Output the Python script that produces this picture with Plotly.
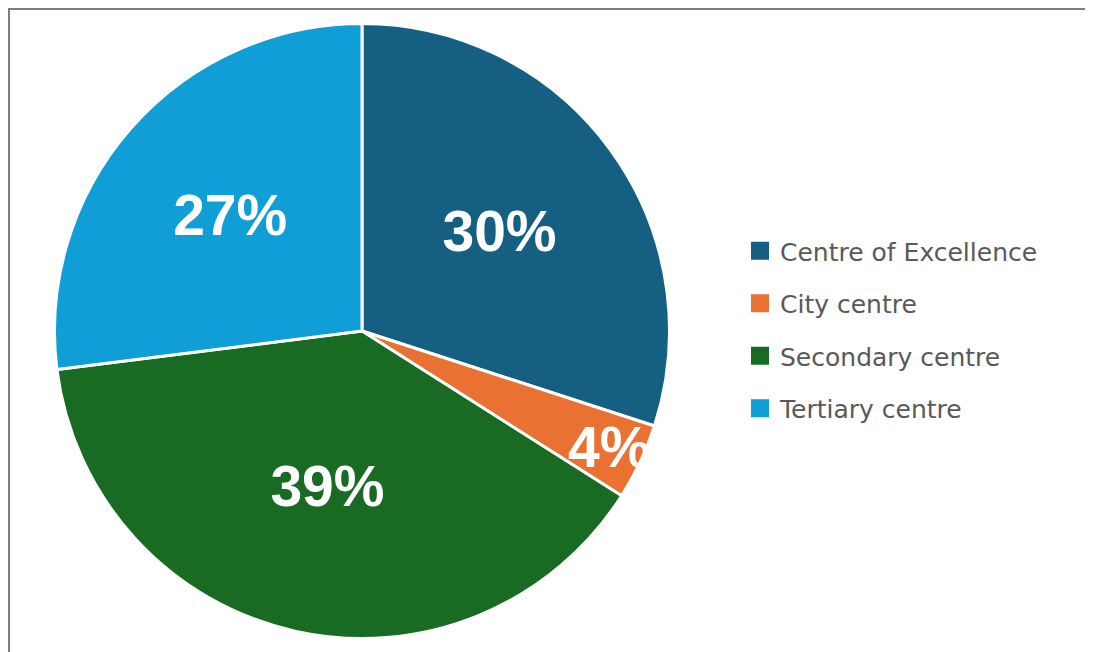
import plotly.graph_objects as go

categories = ["Centre of Excellence", "City centre", "Secondary centre", "Tertiary centre"]
values = [30, 4, 39, 27]
colors = ["#156082", "#E97132", "#196B24", "#0F9ED5"]

W, H = 1093, 652
OFF = 8  # page body margin offset of the figure inside the browser window

cx, cy, r = 362 - OFF, 331 - OFF, 307.5

fig = go.Figure()
fig.add_trace(go.Pie(
    labels=categories,
    values=values,
    sort=False,
    direction="clockwise",
    rotation=0,
    marker=dict(colors=colors, line=dict(color="white", width=3)),
    texttemplate="%{percent:.0%}",
    textposition="inside",
    insidetextorientation="horizontal",
    textfont=dict(family="Liberation Sans", size=57, color="white", weight="bold"),
    showlegend=False,
    hoverinfo="label+percent",
    domain=dict(x=[(cx - r) / W, (cx + r) / W],
                y=[(H - (cy + r)) / H, (H - (cy - r)) / H]),
))

for name, col in zip(categories, colors):
    fig.add_trace(go.Scatter(
        x=[None], y=[None], mode="markers", name=name, legendgroup=name,
        marker=dict(symbol="square", size=16, color=col,
                    line=dict(color=col, width=2)),
        hoverinfo="skip",
    ))

fig.update_layout(
    width=W, height=H,
    margin=dict(l=0, r=0, t=0, b=0),
    paper_bgcolor="white", plot_bgcolor="white",
    xaxis=dict(visible=False), yaxis=dict(visible=False),
    uniformtext=dict(minsize=57, mode="show"),
    legend=dict(x=732 / W, y=1 - (329.5 - OFF) / H, xanchor="left", yanchor="middle",
                font=dict(family="DejaVu Sans", size=25, color="#595959"),
                tracegroupgap=17, itemsizing="trace",
                bgcolor="rgba(0,0,0,0)"),
    shapes=[dict(type="rect", xref="paper", yref="paper",
                 x0=1 / W, x1=1.05, y0=-0.05, y1=1 - 1 / H,
                 line=dict(color="#7F7F7F", width=2), fillcolor="rgba(0,0,0,0)",
                 layer="below")],
)

fig.write_html("out.html")
